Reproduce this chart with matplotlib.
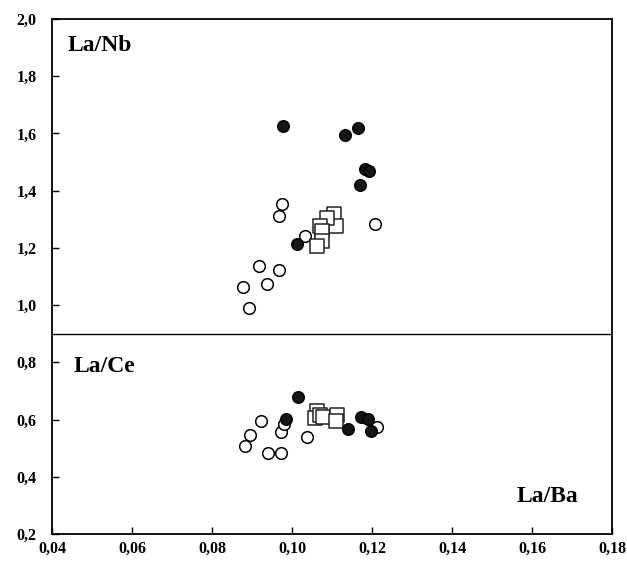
import matplotlib
matplotlib.use("Agg")
import matplotlib.pyplot as plt

# ---- data (La/Ba on x) ----
nb_filled_x = [0.0978, 0.1133, 0.1165, 0.1183, 0.1193, 0.1171, 0.1012]
nb_filled_y = [1.627, 1.595, 1.618, 1.475, 1.468, 1.420, 1.212]
nb_open_x = [0.0976, 0.0967, 0.1033, 0.1207, 0.0918, 0.0968, 0.0937, 0.0878, 0.0893]
nb_open_y = [1.355, 1.310, 1.242, 1.282, 1.135, 1.122, 1.073, 1.065, 0.990]
nb_sq_x = [0.1104, 0.1109, 0.1087, 0.1070, 0.1074, 0.1076, 0.1062]
nb_sq_y = [1.318, 1.275, 1.305, 1.276, 1.258, 1.223, 1.206]

ce_filled_x = [0.1014, 0.0984, 0.1139, 0.1173, 0.1189, 0.1198]
ce_filled_y = [0.678, 0.602, 0.567, 0.608, 0.603, 0.561]
ce_open_x = [0.0922, 0.0895, 0.0883, 0.0973, 0.0980, 0.0941, 0.0973, 0.1038, 0.1212]
ce_open_y = [0.594, 0.545, 0.508, 0.557, 0.586, 0.484, 0.484, 0.539, 0.574]
ce_sq_x = [0.1062, 0.1058, 0.1070, 0.1077, 0.1113, 0.1110]
ce_sq_y = [0.629, 0.606, 0.615, 0.608, 0.617, 0.594]

x_ticks = [0.04, 0.06, 0.08, 0.10, 0.12, 0.14, 0.16, 0.18]
x_labels = ["0,04", "0,06", "0,08", "0,10", "0,12", "0,14", "0,16", "0,18"]
y_ticks = [0.2, 0.4, 0.6, 0.8, 1.0, 1.2, 1.4, 1.6, 1.8, 2.0]
y_labels = ["0,2", "0,4", "0,6", "0,8", "1,0", "1,2", "1,4", "1,6", "1,8", "2,0"]
divider_y = 0.9

plt.rcParams['font.family'] = ['Liberation Serif', 'DejaVu Serif']
plt.rcParams['font.weight'] = 'bold'

W, H = 627, 561
fig = plt.figure(figsize=(W / 100, H / 100), dpi=100)
ax = fig.add_axes([52 / W, (H - 534) / H, (612 - 52) / W, (534 - 19) / H])

ax.set_xlim(0.04, 0.18)
ax.set_ylim(0.2, 2.0)

open_kw = dict(s=70, facecolors='white', edgecolors='black', linewidths=1.1, zorder=3)
fill_kw = dict(s=70, facecolors='#151515', edgecolors='black', linewidths=1.0, zorder=4)
sq_kw = dict(s=88, marker='s', facecolors='white', edgecolors='#222222', linewidths=1.1, zorder=3)

for xs, ys in [(nb_open_x, nb_open_y), (ce_open_x, ce_open_y)]:
    ax.scatter(xs, ys, **open_kw)
for xs, ys in [(nb_sq_x, nb_sq_y), (ce_sq_x, ce_sq_y)]:
    ax.scatter(xs, ys, **sq_kw)
for xs, ys in [(nb_filled_x, nb_filled_y), (ce_filled_x, ce_filled_y)]:
    ax.scatter(xs, ys, **fill_kw)

ax.axhline(divider_y, color='black', linewidth=1.0)

ax.set_xticks(x_ticks)
ax.set_xticklabels(x_labels)
ax.set_yticks(y_ticks)
ax.set_yticklabels(y_labels)
ax.tick_params(axis='both', direction='in', length=5, width=1.0, labelsize=11.5)
ax.tick_params(axis='x', pad=5)
ax.tick_params(axis='y', pad=11)
for lab in ax.get_xticklabels() + ax.get_yticklabels():
    lab.set_fontweight('bold')

for sp in ax.spines.values():
    sp.set_linewidth(1.3)

ax.text(0.027, 0.948, "La/Nb", transform=ax.transAxes, fontsize=17,
        fontweight='bold', ha='left', va='center')
ax.text(0.038, 0.325, "La/Ce", transform=ax.transAxes, fontsize=17,
        fontweight='bold', ha='left', va='center')
ax.text(0.94, 0.072, "La/Ba", transform=ax.transAxes, fontsize=17,
        fontweight='bold', ha='right', va='center')

fig.savefig("out.png", dpi=100)
